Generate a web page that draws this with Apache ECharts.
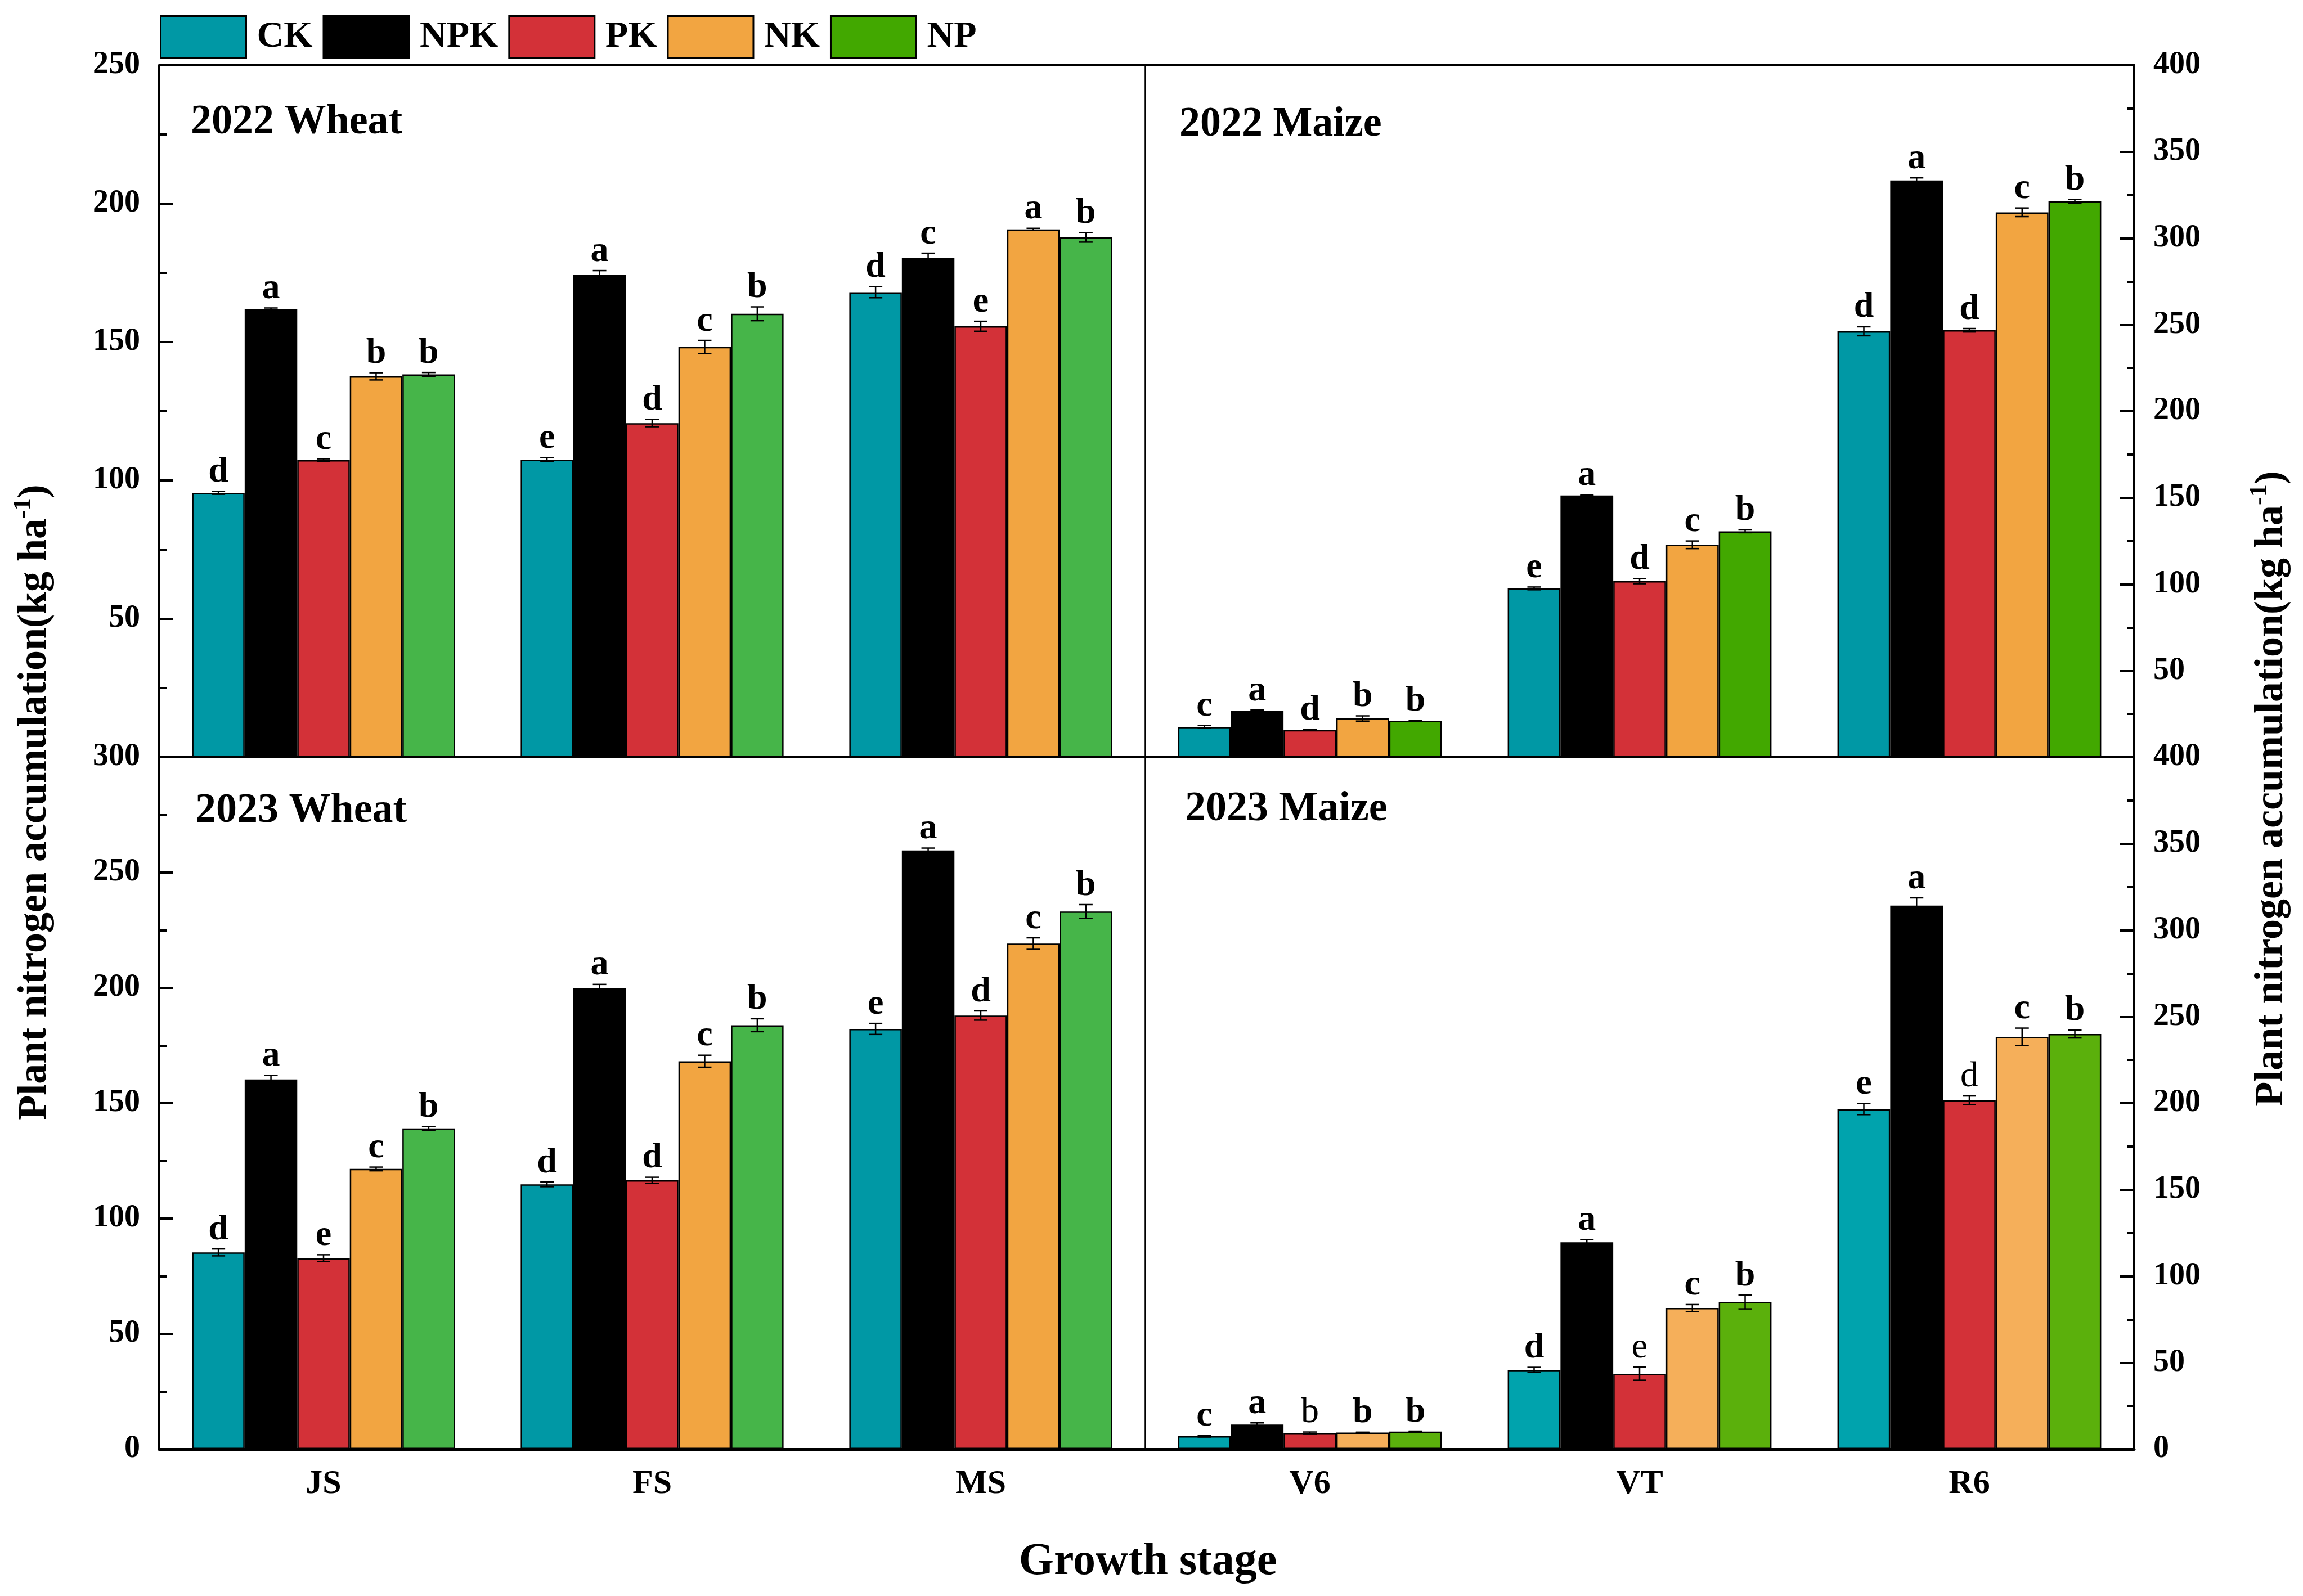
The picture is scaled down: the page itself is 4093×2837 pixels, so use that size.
<!DOCTYPE html>
<html><head><meta charset="utf-8">
<script src="https://cdn.jsdelivr.net/npm/echarts@6/dist/echarts.min.js"></script>
<style>html,body{margin:0;padding:0;background:#fff}#c{width:4093px;height:2837px}</style>
</head><body><div id="c"></div>
<script>
// ---------------- DATA ----------------
const treatments = ['CK', 'NPK', 'PK', 'NK', 'NP'];
const wheatStages = ['JS', 'FS', 'MS'];
const maizeStages = ['V6', 'VT', 'R6'];
const panelTitles = ['2022 Wheat', '2022 Maize', '2023 Wheat', '2023 Maize'];

// values: rows = treatments (CK, NPK, PK, NK, NP), columns = stages
const wheat2022 = [[95.5, 107.5, 168.0], [162.0, 174.2, 180.3], [107.3, 120.7, 155.7], [137.6, 148.2, 190.7], [138.3, 160.2, 187.8]];
const maize2022 = [[17.5, 97.6, 246.2], [26.8, 151.3, 333.4], [15.7, 101.8, 246.8], [22.4, 122.8, 315.0], [21.1, 130.6, 321.4]];
const wheat2023 = [[85.3, 114.8, 182.2], [160.3, 200.0, 259.6], [82.8, 116.6, 188.0], [121.5, 168.2, 219.2], [139.1, 183.8, 233.1]];
const maize2023 = [[7.5, 45.8, 196.6], [14.2, 119.6, 314.2], [9.4, 43.6, 201.7], [9.6, 81.6, 238.4], [10.2, 85.1, 240.0]];

// error bars (±)
const wheat2022Err = [[0.5, 0.7, 2.0], [0.3, 1.6, 1.8], [0.5, 1.3, 1.8], [1.3, 2.4, 0.4], [0.7, 2.5, 1.7]];
const maize2022Err = [[0.8, 0.8, 2.6], [0.5, 0.3, 1.5], [0.3, 1.5, 1.0], [1.5, 2.2, 2.5], [0.2, 0.8, 1.0]];
const wheat2023Err = [[1.5, 1.0, 2.4], [1.8, 1.5, 1.0], [1.5, 1.3, 2.0], [0.8, 2.6, 2.5], [0.8, 2.8, 3.0]];
const maize2023Err = [[0.5, 1.5, 3.2], [1.0, 1.5, 4.5], [0.5, 3.8, 2.5], [0.2, 2.0, 5.0], [0.2, 4.0, 2.3]];

// significance letters
const wheat2022Let = [['d', 'e', 'd'], ['a', 'a', 'c'], ['c', 'd', 'e'], ['b', 'c', 'a'], ['b', 'b', 'b']];
const maize2022Let = [['c', 'e', 'd'], ['a', 'a', 'a'], ['d', 'd', 'd'], ['b', 'c', 'c'], ['b', 'b', 'b']];
const wheat2023Let = [['d', 'd', 'e'], ['a', 'a', 'a'], ['e', 'd', 'd'], ['c', 'c', 'c'], ['b', 'b', 'b']];
const maize2023Let = [['c', 'd', 'e'], ['a', 'a', 'a'], ['b', 'e', 'd'], ['b', 'c', 'c'], ['b', 'b', 'b']];
// letters printed in regular (non-bold) weight
const maize2023Regular = [[false, false, false], [false, false, false], [true, true, true], [false, false, false], [false, false, false]];

const wheat2022Ticks = [0, 250, 50];
const maize2022Ticks = [0, 400, 50];
const wheat2023Ticks = [0, 300, 50];
const maize2023Ticks = [0, 400, 50];

// ---------------- STYLE ----------------
const FONT = '"Liberation Serif", "Times New Roman", serif';
const panelColors = [
  ['#0098A5', '#000000', '#D33138', '#F2A541', '#46B549'],
  ['#0098A5', '#000000', '#D33138', '#F2A541', '#42A800'],
  ['#0098A5', '#000000', '#D33138', '#F2A541', '#46B549'],
  ['#00A3AD', '#000000', '#D33138', '#F5AF5A', '#5BB00C']
];
const legendColors = ['#0098A5', '#000000', '#D33138', '#F2A541', '#42A800'];

const panels = [
  { cats: wheatStages, vals: wheat2022, err: wheat2022Err, lets: wheat2022Let, reg: null, ticks: wheat2022Ticks, side: 'left', bottom: false },
  { cats: maizeStages, vals: maize2022, err: maize2022Err, lets: maize2022Let, reg: null, ticks: maize2022Ticks, side: 'right', bottom: false },
  { cats: wheatStages, vals: wheat2023, err: wheat2023Err, lets: wheat2023Let, reg: null, ticks: wheat2023Ticks, side: 'left', bottom: true },
  { cats: maizeStages, vals: maize2023, err: maize2023Err, lets: maize2023Let, reg: maize2023Regular, ticks: maize2023Ticks, side: 'right', bottom: true }
];

const grids = [
  { left: 283, top: 116, width: 1752, height: 1230 },
  { left: 2035, top: 116, width: 1758, height: 1230 },
  { left: 283, top: 1346, width: 1752, height: 1230 },
  { left: 2035, top: 1346, width: 1758, height: 1230 }
];
const titlePos = [[339, 223], [2096, 227], [347, 1447], [2106, 1444]];

const xAxes = [], yAxes = [], series = [];
panels.forEach((p, i) => {
  xAxes.push({
    type: 'category', gridIndex: i, data: p.cats, position: 'bottom',
    axisLine: { onZero: false, lineStyle: { color: '#000', width: p.bottom ? 5 : 4 } },
    axisTick: { show: false },
    axisLabel: { show: p.bottom, fontFamily: FONT, fontWeight: 'bold', fontSize: 60, color: '#000', margin: 32 }
  });
  yAxes.push({
    type: 'value', gridIndex: i, position: p.side, min: p.ticks[0], max: p.ticks[1], interval: p.ticks[2],
    axisLine: { show: true, onZero: false, lineStyle: { color: '#000', width: 4 } },
    axisTick: { show: true, inside: true, length: 25, lineStyle: { color: '#000', width: 4 } },
    minorTick: { show: true, splitNumber: 2, length: 13, lineStyle: { color: '#000', width: 4 } },
    splitLine: { show: false },
    axisLabel: { showMinLabel: p.bottom, fontFamily: FONT, fontWeight: 'bold', fontSize: 56, color: '#000', margin: 34 }
  });
});
// top borders
[0, 1].forEach(i => xAxes.push({
  type: 'category', gridIndex: i, data: panels[i].cats, position: 'top',
  axisLine: { onZero: false, lineStyle: { color: '#000', width: 4 } }, axisTick: { show: false }, axisLabel: { show: false }
}));
// middle divider
[0, 2].forEach(i => yAxes.push({
  type: 'value', gridIndex: i, position: 'right', min: 0, max: 1,
  axisLine: { show: true, onZero: false, lineStyle: { color: '#000', width: 2.5 } }, axisTick: { show: false },
  axisLabel: { show: false }, splitLine: { show: false }
}));

panels.forEach((p, i) => {
  treatments.forEach((t, k) => {
    series.push({
      type: 'bar', name: t, xAxisIndex: i, yAxisIndex: i, data: p.vals[k],
      barGap: '0%', barCategoryGap: '20%',
      itemStyle: { color: panelColors[i][k], borderColor: '#000', borderWidth: 2.5 },
      emphasis: { disabled: true }, silent: true
    });
  });
  const cdata = [];
  treatments.forEach((t, k) => p.cats.forEach((c, s) => cdata.push([s, p.vals[k][s], p.err[k][s], k])));
  series.push({
    type: 'custom', xAxisIndex: i, yAxisIndex: i, z: 10, silent: true, data: cdata,
    encode: { x: 0, y: 1 },
    renderItem: function (params, api) {
      const s = api.value(0), v = api.value(1), e = api.value(2), k = api.value(3);
      const band = api.size([1, 0])[0];
      const x = api.coord([s, v])[0] + (k - 2) * band * 0.16;
      const yT = api.coord([s, v + e])[1];
      const yB = api.coord([s, v - e])[1];
      const st = { stroke: '#000', lineWidth: 2.5 };
      const regular = p.reg && p.reg[k][s];
      return {
        type: 'group', children: [
          { type: 'line', shape: { x1: x, y1: yT, x2: x, y2: yB }, style: st },
          { type: 'line', shape: { x1: x - 12, y1: yT, x2: x + 12, y2: yT }, style: st },
          { type: 'line', shape: { x1: x - 12, y1: yB, x2: x + 12, y2: yB }, style: st },
          { type: 'text', style: { text: p.lets[k][s], x: x, y: yT - 2, align: 'center', verticalAlign: 'bottom',
            fontFamily: FONT, fontWeight: regular ? 'normal' : 'bold', fontSize: 64, fill: '#000' } }
        ]
      };
    }
  });
});

const graphic = panelTitles.map((t, i) => ({
  type: 'text', left: titlePos[i][0], top: titlePos[i][1] - 42, z: 20,
  style: { text: t, fontFamily: FONT, fontWeight: 'bold', fontSize: 74, fill: '#000' }
}));
const yTitleRich = {
  m: { fontFamily: FONT, fontWeight: 'bold', fontSize: 72, fill: '#000', lineHeight: 84 },
  sup: { fontFamily: FONT, fontWeight: 'bold', fontSize: 44, fill: '#000', verticalAlign: 'top', lineHeight: 84, padding: [0, 0, 30, 0] }
};
[[62, 1426], [4037, 1402]].forEach(pos => graphic.push({
  type: 'text', x: pos[0], y: pos[1], rotation: Math.PI / 2, z: 20,
  style: { text: '{m|Plant nitrogen accumulation(kg ha}{sup|-1}{m|)}', rich: yTitleRich, align: 'center', verticalAlign: 'middle' }
}));
graphic.push({
  type: 'text', x: 2040, y: 2777, z: 20,
  style: { text: 'Growth stage', fontFamily: FONT, fontWeight: 'bold', fontSize: 80, fill: '#000', align: 'center', verticalAlign: 'middle' }
});

const chart = echarts.init(document.getElementById('c'), null, { renderer: 'canvas', width: 4093, height: 2837 });
chart.setOption({
  animation: false,
  backgroundColor: '#fff',
  legend: {
    left: 279, top: 22, itemWidth: 152, itemHeight: 75, itemGap: 18, selectedMode: false, icon: 'rect',
    data: treatments.map((t, k) => ({ name: t, itemStyle: { color: legendColors[k], borderColor: '#000', borderWidth: 3 } })),
    textStyle: { fontFamily: FONT, fontWeight: 'bold', fontSize: 66, color: '#000', padding: [0, 0, 0, 14] }
  },
  grid: grids,
  xAxis: xAxes,
  yAxis: yAxes,
  series: series,
  graphic: graphic
});
</script>
</body></html>
